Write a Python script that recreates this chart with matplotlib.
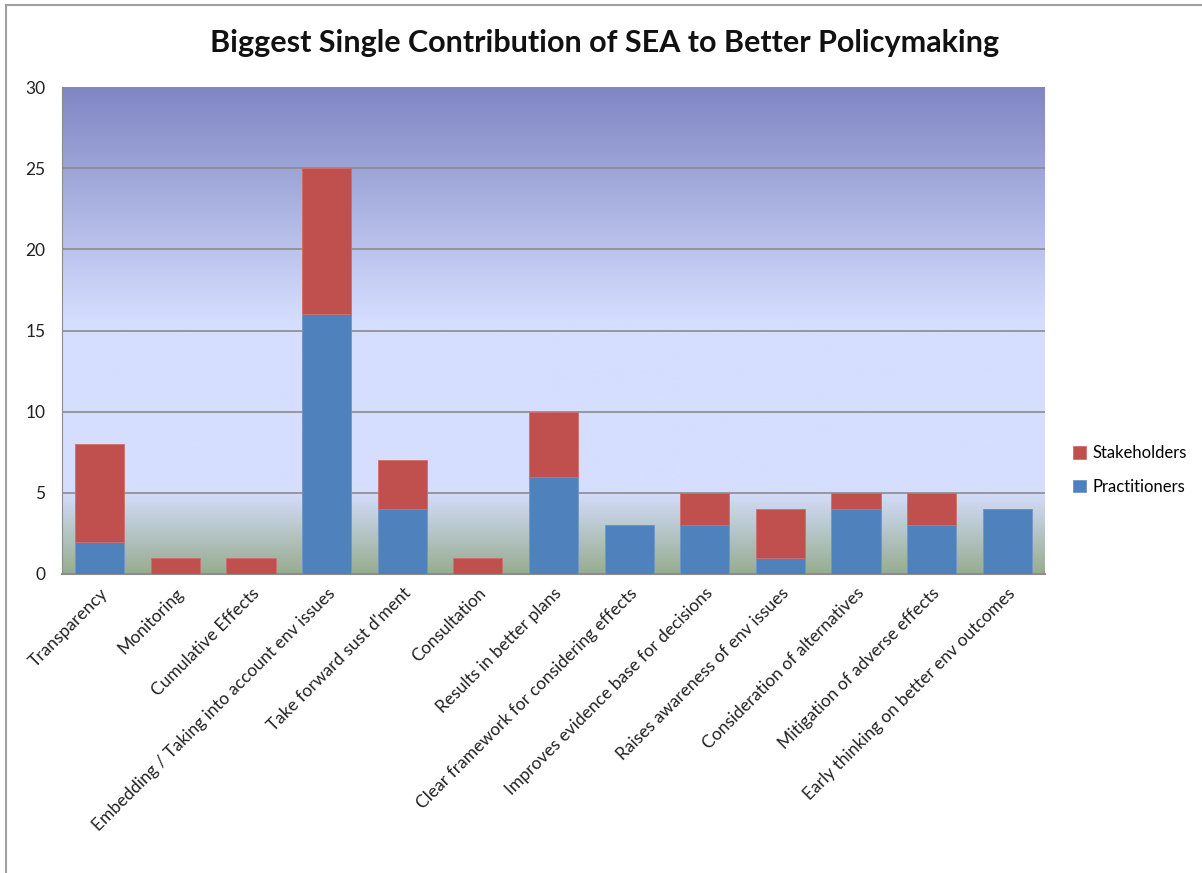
import numpy as np
import matplotlib.pyplot as plt
from matplotlib.colors import LinearSegmentedColormap

plt.rcParams['font.family'] = ['Lato', 'DejaVu Sans']

# Data
categories = [
    'Transparency', 'Monitoring', 'Cumulative Effects',
    'Embedding / Taking into account env issues', "Take forward sust d'ment",
    'Consultation', 'Results in better plans',
    'Clear framework for considering effects',
    'Improves evidence base for decisions', 'Raises awareness of env issues',
    'Consideration of alternatives', 'Mitigation of adverse effects',
    'Early thinking on better env outcomes',
]
practitioners = [2, 0, 0, 16, 4, 0, 6, 3, 3, 1, 4, 3, 4]
stakeholders = [6, 1, 1, 9, 3, 1, 4, 0, 2, 3, 1, 2, 0]
yticks = [0, 5, 10, 15, 20, 25, 30]

blue = '#4F81BD'
red = '#C0504D'
grid_col = '#8C8C8C'

fig = plt.figure(figsize=(12.02, 8.73), dpi=100)
ax = fig.add_axes([62 / 1202, (873 - 574) / 873, (1045 - 62) / 1202, (574 - 87) / 873])

# Gradient plot-area background (top -> bottom)
grad = LinearSegmentedColormap.from_list('bg', [
    (0.0, '#7F86C3'),
    (0.48, '#D5DEFF'),
    (0.83, '#D5DEFF'),
    (1.0, '#97AD8F'),
])
ax.imshow(np.linspace(0, 1, 256).reshape(-1, 1), cmap=grad, aspect='auto',
          extent=[0, 1, 0, 1], transform=ax.transAxes, zorder=0)

x = np.arange(len(categories))
ax.bar(x, practitioners, width=0.65, color=blue, edgecolor='#6F97C8',
       linewidth=0.6, label='Practitioners', zorder=3)
ax.bar(x, stakeholders, width=0.65, bottom=practitioners, color=red,
       edgecolor='#D06E6B', linewidth=0.6, label='Stakeholders', zorder=3)

ax.set_xlim(-0.5, len(categories) - 0.5)
ax.set_ylim(0, 30)
ax.set_yticks(yticks)
for t in yticks[1:]:
    ax.axhline(t, color=grid_col, linewidth=1.2, zorder=1)

ax.tick_params(axis='y', length=0, pad=12, labelsize=12.5, labelcolor='#222222')
ax.tick_params(axis='x', length=0, pad=8)
ax.set_xticks(x)
ax.set_xticklabels(categories, rotation=45, ha='right', rotation_mode='anchor',
                   fontsize=12.5, color='#222222')

for side in ['top', 'right']:
    ax.spines[side].set_visible(False)
ax.spines['left'].set_color(grid_col)
ax.spines['bottom'].set_color(grid_col)
ax.spines['bottom'].set_linewidth(1.5)

handles, labels = ax.get_legend_handles_labels()
fig.legend(handles[::-1], labels[::-1], loc='center left',
           bbox_to_anchor=(1058 / 1202, 1 - 470 / 873), frameon=False,
           fontsize=12, handlelength=0.75, handleheight=0.75,
           handletextpad=0.4, labelspacing=1.05)

fig.text(605 / 1202, 1 - 43 / 873,
         'Biggest Single Contribution of SEA to Better Policymaking',
         ha='center', va='center', fontsize=22, fontweight='bold', color='#111111')

# outer chart frame
fig.add_artist(plt.Line2D([6 / 1202, 6 / 1202], [0, 1 - 5 / 873],
                          transform=fig.transFigure, color='#A0A0A0', linewidth=1.5))
fig.add_artist(plt.Line2D([6 / 1202, 1], [1 - 5 / 873, 1 - 5 / 873],
                          transform=fig.transFigure, color='#A0A0A0', linewidth=1.5))

fig.savefig('out.png', dpi=100)
